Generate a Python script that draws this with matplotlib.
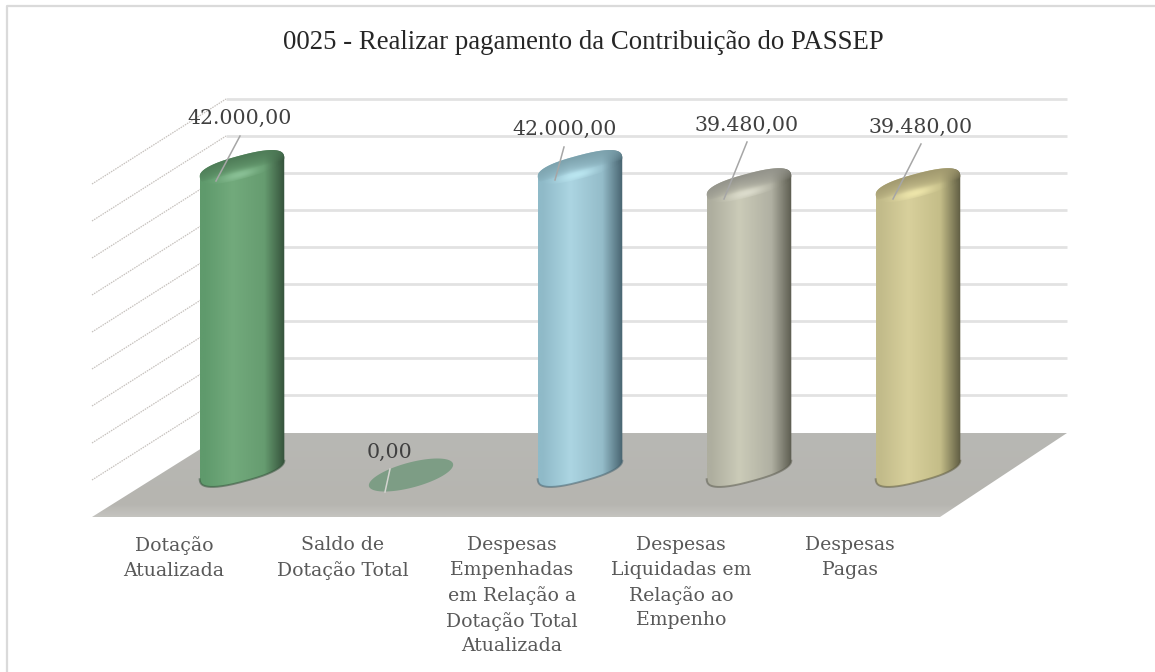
import numpy as np
import matplotlib
matplotlib.use("agg")
import matplotlib.pyplot as plt
from matplotlib.path import Path
from matplotlib.patches import PathPatch, Polygon
from matplotlib.colors import to_rgb

title = "0025 - Realizar pagamento da Contribuição do PASSEP"
categories = ["Dotação\nAtualizada", "Saldo de\nDotação Total",
              "Despesas\nEmpenhadas\nem Relação a\nDotação Total\nAtualizada",
              "Despesas\nLiquidadas em\nRelação ao\nEmpenho", "Despesas\nPagas"]
values = [42000, 0, 42000, 39480, 39480]
value_labels = ["42.000,00", "0,00", "42.000,00", "39.480,00", "39.480,00"]

# left edge, light, mid, dark right edge, cap back, cap highlight
bar_colors = [["#5f9a6c", "#72aa7c", "#669c70", "#35523b", "#4d7a56", "#8cc298"],
              ["#7d9d85", "#7d9d85", "#7d9d85", "#7d9d85", "#7d9d85", "#7d9d85"],
              ["#8fbac8", "#acd5e2", "#94bcc9", "#47636f", "#7ba0ab", "#bce8f2"],
              ["#aeae9f", "#cbcbb8", "#b0b0a2", "#5c5c50", "#92928a", "#dedecf"],
              ["#c2bb8a", "#d8d09c", "#c4bd88", "#5f5c42", "#a0986e", "#f0e8ac"]]

# layout, in pixels of the 1155x672 picture
W, H = 1155, 672
X0, X_STEP = 242, 169
Y0, BAR_PX = 470, 303
grid_px = [99, 136, 173, 210, 247, 284, 321, 358, 395]
wall_left, wall_back, wall_right = 92, 226, 1067
floor_back, floor_front, floor_corner = 433, 517, 940
label_xy = [(240, 118), (390, 452), (565, 129), (747, 125), (921, 127)]
leader_xy = [((240, 136), (216, 181)), ((390, 469), (385, 492)), ((564, 147), (555, 180)),
             ((747, 142), (724, 199)), ((921, 144), (893, 199))]
label_x_shift = -68
THETA = np.radians(15)
A, B = 43.5, 11.5
ROUND = 0.8


def dx(p):
    return (p - X0) / X_STEP


def dy(p):
    return (Y0 - p) * max(values) / BAR_PX


def foot_pts(t):
    # rounded ellipse, offsets in pixels, y up
    c = np.sign(np.cos(t)) * np.abs(np.cos(t)) ** ROUND
    s = np.sign(np.sin(t)) * np.abs(np.sin(t)) ** ROUND
    ex = A * c * np.cos(THETA) - B * s * np.sin(THETA)
    ey = A * c * np.sin(THETA) + B * s * np.cos(THETA)
    return ex, ey


def to_data(i, v, ex, ey):
    return i + ex / X_STEP, v + ey * max(values) / BAR_PX


def ramp(stops, colors, n):
    rgb = np.array([to_rgb(c) for c in colors])
    u = np.linspace(0, 1, n)
    return np.stack([np.interp(u, stops, rgb[:, k]) for k in range(3)], axis=-1)


def draw_bar(ax, i, v, cols):
    t = np.linspace(0, 2 * np.pi, 721)[:-1]
    n = len(t)
    ex, ey = foot_pts(t)
    r, l = int(np.argmax(ex)), int(np.argmin(ex))
    # lower side runs from the leftmost point round to the rightmost, upper side back again
    low = np.arange(l, (r if r > l else r + n) + 1) % n
    up = np.arange(r, (l if l > r else l + n) + 1) % n
    xb, yb = to_data(i, 0, ex[low], ey[low])
    xt, yt = to_data(i, v, ex[up], ey[up])
    body_x = np.r_[xb, xt]
    body_y = np.r_[yb, yt]
    body = PathPatch(Path(np.c_[body_x, body_y]), fc="none", ec="none", zorder=4)
    ax.add_patch(body)

    stops = [0, 0.05, 0.38, 0.76, 1]
    colors = [cols[0], cols[0], cols[1], cols[2], cols[3]]
    grad = ramp(stops, colors, 128)
    im = ax.imshow(grad[None, :, :], extent=[body_x.min(), body_x.max(), body_y.min(), body_y.max()],
                   aspect="auto", zorder=4, interpolation="bilinear")
    im.set_clip_path(body)

    # lower lip of the foot
    ax.plot(xb, yb, color=cols[3], lw=1.4, alpha=0.55, zorder=5)

    # cap: body colour darkening to the back, with a soft highlight near the front
    cx, cy = to_data(i, v, ex, ey)
    cap = PathPatch(Path(np.c_[cx, cy]), fc="none", ec="none", zorder=5)
    ax.add_patch(cap)
    half_w, half_h = 50, 26
    gx, gy = np.meshgrid(np.arange(-half_w, half_w + 1), np.arange(half_h, -half_h - 1, -1))
    u = (1 - (-gx * np.sin(THETA) + gy * np.cos(THETA)) / B) / 2
    w = (gx * np.cos(THETA) + gy * np.sin(THETA)) / A
    col_x = np.clip((gx + 42) / 84, 0, 1)
    base = grad[(col_x * 127).astype(int)]
    back = np.clip(1 - u / 0.7, 0, 1)[..., None] ** 0.6
    img = base * (1 - back) + np.array(to_rgb(cols[4])) * back
    glow = 0.9 * np.exp(-((u - 0.82) / 0.18) ** 2 - ((w + 0.1) / 0.42) ** 2)[..., None]
    img = img * (1 - glow) + np.array(to_rgb(cols[5])) * glow
    x1, y1 = to_data(i, v, -half_w, -half_h)
    x2, y2 = to_data(i, v, half_w, half_h)
    im2 = ax.imshow(img, extent=[x1, x2, y1, y2], aspect="auto", zorder=5, interpolation="bilinear")
    im2.set_clip_path(cap)


def draw_flat(ax, i, v, color):
    tc = np.linspace(0, 2 * np.pi, 160)
    ex = A * np.cos(tc) * np.cos(THETA) - 12.5 * np.sin(tc) * np.sin(THETA)
    ey = A * np.cos(tc) * np.sin(THETA) + 12.5 * np.sin(tc) * np.cos(THETA)
    xc, yc = to_data(i, v, ex, ey - 5)
    ax.fill(xc, yc, color=color, ec="none", zorder=4)


fig = plt.figure(figsize=(W / 100, H / 100), dpi=100, facecolor="white")
ax = fig.add_axes([0, 0, 1, 1])
ax.axis("off")

# chart frame, open on the right and at the bottom
ax.plot([dx(7.5), dx(7.5), dx(W)], [dy(H), dy(6.5), dy(6.5)], color="#dadada", lw=1.6, zorder=0)

# gridlines, back wall and side wall
for g in grid_px:
    ax.plot([dx(wall_back), dx(wall_right)], [dy(g), dy(g)], color="#e2e2e2", lw=2, zorder=1,
            solid_capstyle="butt")
    ax.plot([dx(wall_left), dx(wall_back)], [dy(g + 85), dy(g)], color="#c6c1bd", lw=0.9,
            ls=(0, (1.2, 0.8)), zorder=1)

# floor
floor_pts = [(wall_left, floor_front), (floor_corner, floor_front), (wall_right, floor_back), (wall_back, floor_back)]
floor = Polygon([(dx(a), dy(b)) for a, b in floor_pts], fc="none", ec="none", zorder=2)
ax.add_patch(floor)
floor_grad = ramp([0, 0.85, 1], ["#b8b8b4", "#b6b5b0", "#c4c3bf"], 64)
fim = ax.imshow(floor_grad[:, None, :], extent=[dx(wall_left), dx(wall_right), dy(floor_front), dy(floor_back)],
                aspect="auto", zorder=2, interpolation="bilinear")
fim.set_clip_path(floor)

# bars
for i, v in enumerate(values):
    if v > 0:
        draw_bar(ax, i, v, bar_colors[i])
    else:
        draw_flat(ax, i, v, bar_colors[i][0])

# value labels and leaders
serif = "DejaVu Serif"
for i, txt in enumerate(value_labels):
    (x1, y1), (x2, y2) = leader_xy[i]
    ax.plot([dx(x1), dx(x2)], [dy(y1), dy(y2)], color="#a6a6a6" if values[i] > 0 else "#d4d4d0", lw=1.1, zorder=6)
    ax.text(dx(label_xy[i][0]), dy(label_xy[i][1]), txt, family=serif, fontsize=14.8, color="#404040",
            ha="center", va="center", zorder=7)

# category labels
for i, c in enumerate(categories):
    ax.text(i + label_x_shift / X_STEP, dy(536), c, family=serif, fontsize=13.6, color="#595959",
            ha="center", va="top", linespacing=1.47, zorder=7)

ax.text(dx(583), dy(43), title, family="Liberation Serif", fontsize=19.3, color="#262626",
        ha="center", va="center", zorder=7)

ax.set_xlim(dx(0), dx(W))
ax.set_ylim(dy(H), dy(0))
fig.savefig("out.png", dpi=100)
